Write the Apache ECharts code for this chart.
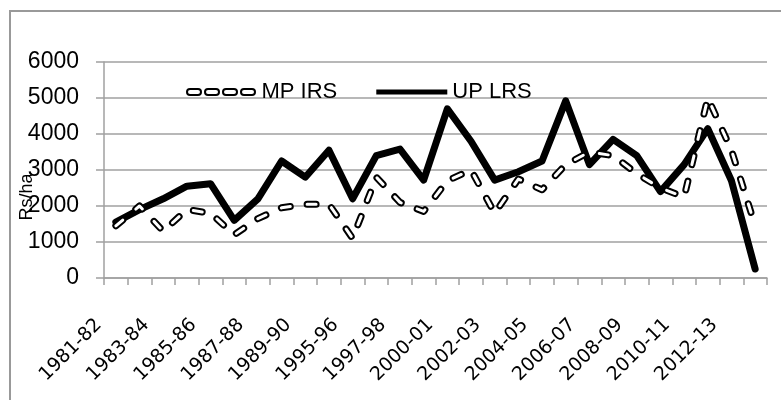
<!DOCTYPE html>
<html>
<head>
<meta charset="utf-8">
<script src="https://cdn.jsdelivr.net/npm/echarts@6/dist/echarts.min.js"></script>
<style>
html, body { margin: 0; padding: 0; background: #fff; }
#main { width: 781px; height: 400px; }
</style>
</head>
<body>
<div id="main"></div>
<script>
// 年份（缺失年份的类目在图上未标注）
var categories = ['1981-82', '1982-83', '1983-84', '1984-85', '1985-86', '1986-87', '1987-88',
	'1988-89', '1989-90', '1990-91', '1995-96', '1996-97', '1997-98', '1999-00', '2000-01',
	'2001-02', '2002-03', '2003-04', '2004-05', '2005-06', '2006-07', '2007-08', '2008-09',
	'2009-10', '2010-11', '2011-12', '2012-13', '2013-14'];

// Rs/ha
var mpIrs = [1450, 2000, 1300, 1900, 1800, 1200, 1650, 1950, 2050, 2050, 1100, 2800, 2100, 1850,
	2700, 3000, 1800, 2750, 2450, 3150, 3500, 3400, 2900, 2500, 2250, 5000, 3550, 1450];
var upLrs = [1550, 1900, 2200, 2550, 2620, 1600, 2200, 3250, 2800, 3550, 2200, 3400, 3580, 2720,
	4700, 3800, 2720, 2950, 3250, 4920, 3150, 3850, 3400, 2400, 3150, 4150, 2700, 250];

var yMin = 0;
var yMax = 6000;
var yStep = 1000;

var mainFont = "'Liberation Sans', Arial, sans-serif";
var gridGrey = '#a0a0a0';
var dashPattern = [9, 17];

// 图例里的虚线（空心短划）
var mpIcon = 'path://' +
	'M3,0H11A3,3 0 0 1 11,6H3A3,3 0 0 1 3,0Z' +
	'M21,0H29A3,3 0 0 1 29,6H21A3,3 0 0 1 21,0Z' +
	'M39,0H47A3,3 0 0 1 47,6H39A3,3 0 0 1 39,0Z' +
	'M57,0H65A3,3 0 0 1 65,6H57A3,3 0 0 1 57,0Z';

var myChart = echarts.init(document.getElementById('main'));
myChart.setOption({
	animation: false,
	backgroundColor: '#fff',
	graphic: [{
		type: 'rect',
		shape: { x: 10, y: 11, width: 800, height: 420 },
		style: { fill: 'none', stroke: '#999', lineWidth: 2 },
		silent: true,
		z: -10
	}, {
		// 纵轴单位
		type: 'text',
		x: 27,
		y: 197,
		rotation: Math.PI / 2,
		style: {
			text: 'Rs/ha',
			fontFamily: mainFont,
			fontSize: 18,
			fill: '#000',
			align: 'center',
			verticalAlign: 'middle'
		},
		silent: true
	}],
	grid: {
		left: 104,
		right: 14,
		top: 62,
		bottom: 122,
		outerBoundsMode: 'none',
		containLabel: false
	},
	legend: {
		left: 181,
		top: 76,
		itemWidth: 71,
		itemHeight: 6,
		itemGap: 39,
		textStyle: {
			fontFamily: mainFont,
			fontSize: 22,
			color: '#000'
		},
		data: [
			{ name: 'MP IRS', icon: mpIcon, itemStyle: { color: '#fff', borderColor: '#000', borderWidth: 2 } },
			{ name: 'UP LRS', icon: 'path://M0,0H71V5H0Z', itemStyle: { color: '#000' } }
		]
	},
	xAxis: {
		type: 'category',
		data: categories,
		boundaryGap: true,
		axisLine: { lineStyle: { color: gridGrey, width: 1.5 } },
		axisTick: { show: true, interval: 0, length: 7, lineStyle: { color: gridGrey, width: 1.5 } },
		axisLabel: {
			interval: 1,
			rotate: 45,
			margin: 27,
			padding: [0, 24, 0, 0],
			fontFamily: 'DejaVu Sans',
			fontSize: 19,
			color: '#000'
		},
		splitLine: { show: false }
	},
	yAxis: {
		type: 'value',
		min: yMin,
		max: yMax,
		interval: yStep,
		axisLine: { show: true, lineStyle: { color: gridGrey, width: 1.5 } },
		axisTick: { show: true, length: 8, lineStyle: { color: gridGrey, width: 1.5 } },
		axisLabel: {
			margin: 25,
			fontFamily: mainFont,
			fontSize: 23,
			color: '#000',
			formatter: function (v) { return String(v); }
		},
		splitLine: { lineStyle: { color: gridGrey, width: 1.5 } }
	},
	series: [{
		name: 'UP LRS',
		type: 'line',
		data: upLrs,
		symbol: 'none',
		itemStyle: { color: '#000' },
		lineStyle: { color: '#000', width: 7, cap: 'round', join: 'round' }
	}, {
		name: 'MP IRS',
		type: 'line',
		data: mpIrs,
		symbol: 'none',
		itemStyle: { color: '#000' },
		lineStyle: { color: '#000', width: 7, type: dashPattern, cap: 'round', join: 'round' }
	}, {
		// 白色内芯，做出空心虚线
		name: 'MP IRS inner',
		type: 'line',
		data: mpIrs,
		symbol: 'none',
		silent: true,
		itemStyle: { color: '#fff' },
		lineStyle: { color: '#fff', width: 3, type: dashPattern, cap: 'round', join: 'round' }
	}]
});
</script>
</body>
</html>
